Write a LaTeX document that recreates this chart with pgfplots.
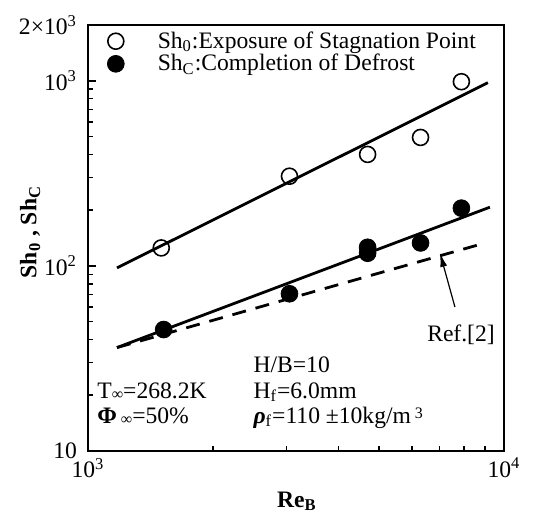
\documentclass[border=0pt]{standalone}
\usepackage{fontspec}
\setmainfont{Liberation Serif}
\usepackage{pgfplots}
\pgfplotsset{compat=1.18}
\usetikzlibrary{arrows.meta}
\begin{document}
\begin{tikzpicture}
\begin{axis}[
  at={(0,0)}, anchor=south west,
  scale only axis, width=208pt, height=213pt,
  xmode=log, ymode=log,
  xmin=1000, xmax=10000, ymin=10, ymax=2000,
  font=\fontsize{11.8}{13}\selectfont,
  axis line style={line width=1.2pt},
  tick style={black, line width=0.8pt},
  tick align=inside,
  major tick length=4pt, minor tick length=2.5pt,
  xtick pos=left, ytick pos=left,
  xtick={1000,10000},
  xticklabels={\mbox{10\textsuperscript{3}}, \mbox{10\textsuperscript{4}}},
  minor xtick={2000,3000,4000,5000,6000,7000,8000,9000},
  ytick={10,100,1000,2000},
  yticklabels={\mbox{10}, \mbox{10\textsuperscript{2}}, \mbox{10\textsuperscript{3}}, \mbox{2×10\textsuperscript{3}}},
  yticklabel style={xshift=-2pt},
  minor ytick={20,30,40,50,60,70,80,90,200,300,400,500,600,700,800,900},
  xlabel={\textbf{Re\textsubscript{B}}},
  ylabel={\textbf{Sh\textsubscript{0} , Sh\textsubscript{C}}},
  xlabel style={at={(axis description cs:0.502,-0.118)}, anchor=center},
  ylabel style={at={(axis description cs:-0.139,0.514)}, anchor=center},
  legend style={at={(axis description cs:0.0,1.0)}, anchor=north west,
    xshift=6.5pt, yshift=1pt,
    draw=none, fill=none, font=\fontsize{11.8}{13}\selectfont, row sep=-2.5pt},
  legend cell align=left,
  /tikz/every odd column/.append style={column sep=14.8pt},
  clip=false,
]
\addplot[only marks, mark=o, mark size=4pt, mark options={line width=0.8pt, fill=white}, black]
  coordinates {(1500,125) (3050,305) (4700,400) (6300,494) (7900,988)};
\addlegendentry{Sh\textsubscript{0}:Exposure of Stagnation Point}
\addplot[only marks, mark=*, mark size=4.2pt, black]
  coordinates {(1520,45.3) (3050,70.7) (4700,126) (4700,117) (6300,133) (7900,205)};
\addlegendentry{Sh\textsubscript{C}:Completion of Defrost}
\addplot[black, line width=1.4pt, forget plot] coordinates {(1174,97.5) (9150,976)};
\addplot[black, line width=1.4pt, forget plot] coordinates {(1174,36.2) (9250,207.5)};
\addplot[black, line width=1.4pt, dash pattern=on 7pt off 5pt, forget plot] coordinates {(1174,36.2) (8660,129.7)};
\node[anchor=base west, inner sep=0pt] at (axis description cs:0.0216,0.1244) {T\raisebox{-0.5pt}{\footnotesize ∞}=268.2K};
\node[anchor=base west, inner sep=0pt] at (axis description cs:0.0216,0.0657) {\textbf{Φ}\,\raisebox{-0.5pt}{\footnotesize ∞}=50\%};
\node[anchor=base west, inner sep=0pt] at (axis description cs:0.397,0.1854) {H/B=10};
\node[anchor=base west, inner sep=0pt] at (axis description cs:0.397,0.1244) {H\textsubscript{f}=6.0mm};
\node[anchor=base west, inner sep=0pt] at (axis description cs:0.397,0.0657) {\textbf{\textit{ρ}}\textsubscript{f}=110 ±10kg/m\,\raisebox{2.5pt}{\footnotesize 3}};
\node[anchor=center, inner sep=0pt] at (axis description cs:0.8966,0.272) {Ref.[2]};
\draw[line width=0.6pt, -{Latex[length=7pt,width=3.5pt]}] (axis description cs:0.882,0.338) -- (axis description cs:0.846,0.465);
\end{axis}
\pgfresetboundingbox
\path (-44pt,-32.5pt) rectangle (224.5pt,225.5pt);
\end{tikzpicture}
\end{document}
